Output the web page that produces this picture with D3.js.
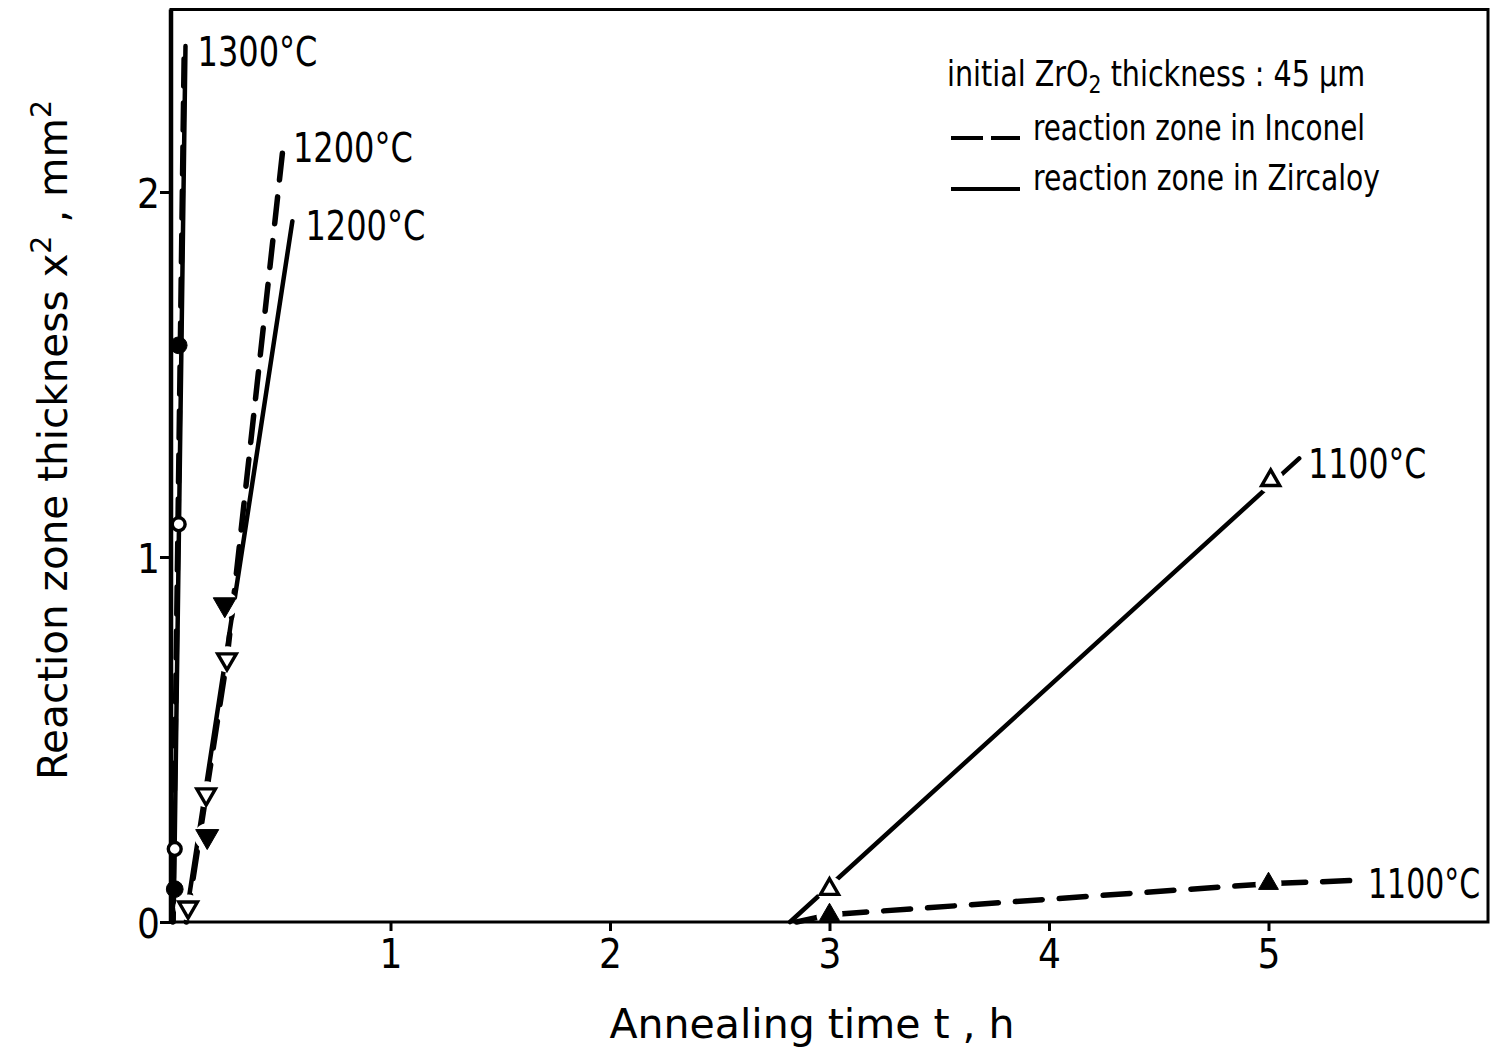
<!DOCTYPE html>
<html>
<head>
<meta charset="utf-8">
<script src="https://cdn.jsdelivr.net/npm/d3@7"></script>
<style>
  body { margin: 0; background: #fff; }
  svg { display: block; }
  text { font-family: "Liberation Sans Narrow", "DejaVu Sans Condensed", sans-serif; fill: #000; }
</style>
</head>
<body>
<div id="chart"></div>
<script>
// tick labels
var xTicks = [1, 2, 3, 4, 5];
var yTicks = [0, 1, 2];

// measured points  [t (h), x^2 (mm^2)]
var zirc1300Pts = [[0.017, 0.09], [0.035, 1.58]];
var inco1300Pts = [[0.017, 0.20], [0.035, 1.09]];
var inco1200Pts = [[0.078, 0.04], [0.16, 0.35], [0.255, 0.72]];
var zirc1200Pts = [[0.165, 0.235], [0.245, 0.87]];
var zirc1100Pts = [[3.0, 0.09], [5.01, 1.21]];
var inco1100Pts = [[3.0, 0.02], [5.0, 0.105]];

// drawn curves
var zirc1300Line = [[0.012, 0.0], [0.066, 2.40]];
var inco1300Line = [[0.008, 0.0], [0.060, 2.38]];
var inco1200Line = [[0.07, 0.0], [0.16, 0.35], [0.255, 0.72], [0.51, 2.12]];
var zirc1200Line = [[0.07, 0.02], [0.553, 1.92]];
var zirc1100Line = [[2.82, 0.0], [5.14, 1.27]];
var inco1100Line = [[2.85, 0.0], [3.0, 0.02], [5.0, 0.105], [5.44, 0.115]];

var W = 1490, H = 1051;
var svg = d3.select("#chart").append("svg")
    .attr("width", W)
    .attr("height", H);

var x = d3.scaleLinear().domain([0, 6]).range([171, 1488]);
var y = d3.scaleLinear().domain([0, 2.5]).range([922, 9.5]);

var line = d3.line()
    .x(function (d) { return x(d[0]); })
    .y(function (d) { return y(d[1]); });

var curves = [
  { pts: zirc1300Line, dash: false },
  { pts: inco1300Line, dash: true },
  { pts: inco1200Line, dash: true },
  { pts: zirc1200Line, dash: false },
  { pts: zirc1100Line, dash: false },
  { pts: inco1100Line, dash: true }
];

svg.selectAll("path.curve")
    .data(curves)
    .enter().append("path")
    .attr("class", "curve")
    .attr("d", function (d) { return line(d.pts); })
    .attr("fill", "none")
    .attr("stroke", "#000")
    .attr("stroke-width", function (d) { return d.dash ? 5.5 : 4.5; })
    .attr("stroke-linecap", "round")
    .attr("stroke-dasharray", function (d) { return d.dash ? "27 17" : null; });

// markers
var markerSets = [
  { pts: zirc1300Pts, shape: d3.symbolCircle, fill: true, size: 220, halo: false },
  { pts: inco1300Pts, shape: d3.symbolCircle, fill: false, size: 130, halo: false },
  { pts: inco1200Pts, shape: d3.symbolTriangle, fill: false, size: 150, rot: 180, halo: true },
  { pts: zirc1200Pts, shape: d3.symbolTriangle, fill: true, size: 230, rot: 180, halo: true },
  { pts: zirc1100Pts, shape: d3.symbolTriangle, fill: false, size: 140, rot: 0, halo: true },
  { pts: inco1100Pts, shape: d3.symbolTriangle, fill: true, size: 170, rot: 0, halo: true }
];

// white gaps where the lines meet the markers
markerSets.forEach(function (m) {
  if (!m.halo) return;
  svg.selectAll(null)
      .data(m.pts)
      .enter().append("circle")
      .attr("cx", function (d) { return x(d[0]); })
      .attr("cy", function (d) { return y(d[1]); })
      .attr("r", 13)
      .attr("fill", "#fff");
});

// frame
svg.append("rect")
    .attr("x", x(0)).attr("y", y(2.5))
    .attr("width", x(6) - x(0)).attr("height", y(0) - y(2.5))
    .attr("fill", "none").attr("stroke", "#000").attr("stroke-width", 3);
svg.append("line")
    .attr("x1", x(0)).attr("x2", x(0)).attr("y1", y(2.5)).attr("y2", y(0))
    .attr("stroke", "#000").attr("stroke-width", 4.5);

markerSets.forEach(function (m) {
  svg.selectAll(null)
      .data(m.pts)
      .enter().append("path")
      .attr("d", d3.symbol().type(m.shape).size(m.size))
      .attr("transform", function (d) {
        return "translate(" + x(d[0]) + "," + y(d[1]) + ") rotate(" + (m.rot || 0) + ")";
      })
      .attr("fill", m.fill ? "#000" : "#fff")
      .attr("stroke", "#000")
      .attr("stroke-width", m.fill ? 1 : 3.4);
});

// axes
var xAxis = svg.append("g")
    .attr("transform", "translate(0," + y(0) + ")")
    .call(d3.axisBottom(x).tickValues(xTicks).tickSize(9).tickFormat(d3.format("d")));
xAxis.select(".domain").remove();
xAxis.selectAll(".tick line").attr("stroke", "#000").attr("stroke-width", 3);
xAxis.selectAll(".tick text")
    .attr("y", 46).attr("dy", 0)
    .attr("font-size", 40)
    .attr("font-family", null);

var yAxis = svg.append("g")
    .attr("transform", "translate(" + x(0) + ",0)")
    .call(d3.axisLeft(y).tickValues(yTicks).tickSize(11).tickFormat(d3.format("d")));
yAxis.select(".domain").remove();
yAxis.selectAll(".tick line").attr("stroke", "#000").attr("stroke-width", 3);
yAxis.selectAll(".tick text")
    .attr("x", -11).attr("dy", "0.38em")
    .attr("font-size", 40)
    .attr("font-family", null);

// axis titles
svg.append("text")
    .attr("x", 812).attr("y", 1038)
    .attr("text-anchor", "middle")
    .attr("font-size", 40)
    .attr("textLength", 405).attr("lengthAdjust", "spacingAndGlyphs")
    .text("Annealing time t , h");

var yt = svg.append("text")
    .attr("transform", "translate(67,440) rotate(-90)")
    .attr("text-anchor", "middle")
    .attr("font-size", 40)
    .attr("textLength", 680).attr("lengthAdjust", "spacingAndGlyphs");
yt.append("tspan").text("Reaction zone thickness x");
yt.append("tspan").attr("dy", -16).attr("font-size", 28).text("2");
yt.append("tspan").attr("dy", 16).text(" , mm");
yt.append("tspan").attr("dy", -16).attr("font-size", 28).text("2");

// curve labels, placed from the curve ends, squeezed to the narrow lettering
var labels = [
  { end: zirc1300Line[1], text: "1300°C", dx: 12, dy: 20, w: 120 },
  { end: inco1200Line[3], text: "1200°C", dx: 10, dy: 14, w: 120 },
  { end: zirc1200Line[1], text: "1200°C", dx: 13, dy: 19, w: 120 },
  { end: zirc1100Line[1], text: "1100°C", dx: 9, dy: 20, w: 118 },
  { end: inco1100Line[3], text: "1100°C", dx: 3, dy: 18, w: 112 }
];
svg.selectAll("text.lbl")
    .data(labels)
    .enter().append("text")
    .attr("class", "lbl")
    .attr("font-size", 40)
    .text(function (d) { return d.text; })
    .attr("transform", function (d) {
      var sx = d.w / this.getComputedTextLength();
      return "translate(" + (x(d.end[0]) + d.dx) + "," + (y(d.end[1]) + d.dy) + ") scale(" + sx + ",1)";
    });

// legend
var lg = svg.append("g");
var t1 = lg.append("text").attr("x", 947).attr("y", 86).attr("font-size", 35)
    .attr("textLength", 418).attr("lengthAdjust", "spacingAndGlyphs");
t1.append("tspan").text("initial ZrO");
t1.append("tspan").attr("dy", 7).attr("font-size", 25).text("2");
t1.append("tspan").attr("dy", -7).text(" thickness : 45 µm");
lg.append("text").attr("x", 1033).attr("y", 140).attr("font-size", 35)
    .attr("textLength", 332).attr("lengthAdjust", "spacingAndGlyphs")
    .text("reaction zone in Inconel");
lg.append("text").attr("x", 1033).attr("y", 190).attr("font-size", 35)
    .attr("textLength", 347).attr("lengthAdjust", "spacingAndGlyphs")
    .text("reaction zone in Zircaloy");
lg.append("line").attr("x1", 951).attr("x2", 1020).attr("y1", 138).attr("y2", 138)
    .attr("stroke", "#000").attr("stroke-width", 4).attr("stroke-dasharray", "32 8");
lg.append("line").attr("x1", 951).attr("x2", 1020).attr("y1", 189).attr("y2", 189)
    .attr("stroke", "#000").attr("stroke-width", 4);
</script>
</body>
</html>
